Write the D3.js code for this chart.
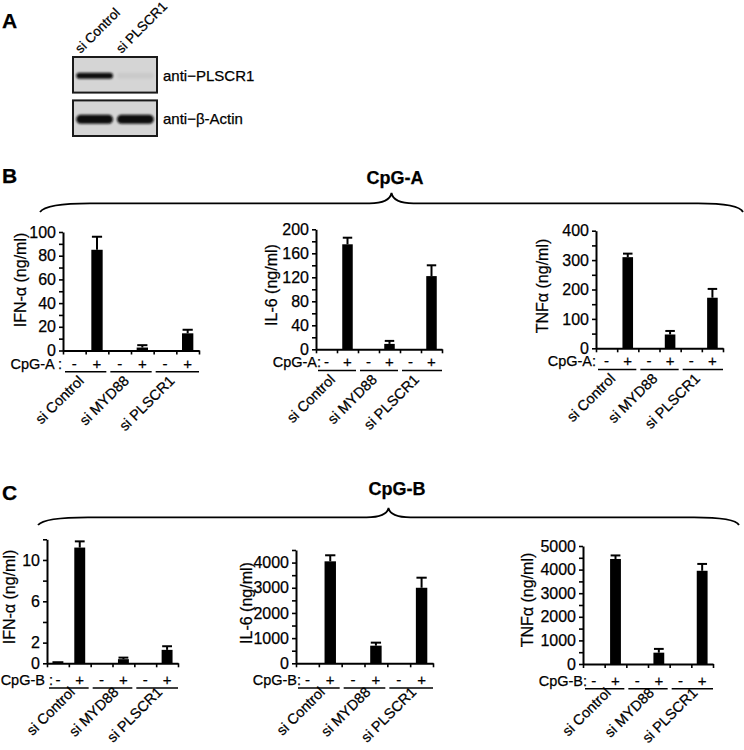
<!DOCTYPE html>
<html><head><meta charset="utf-8">
<script src="https://cdn.jsdelivr.net/npm/d3@7"></script>
<style>
body{margin:0;background:#fff}
text{font-family:"Liberation Sans",Arial,sans-serif;fill:#000;stroke:#000;stroke-width:0.25px}
</style>
</head><body>
<svg id="c" width="744" height="750"></svg>
<script>
// ---------- DATA ----------
const groups = ["si Control", "si MYD88", "si PLSCR1"];
const treatment = ["-", "+"];

// Panel A: western blot
const blotLanes = ["si Control", "si PLSCR1"];
const blotRows = ["anti\u2212PLSCR1", "anti\u2212\u03b2-Actin"];
const plscr1Signal = [1.0, 0.05];
const actinSignal = [1.0, 1.0];

// Panel B: CpG-A  (order: Control -, Control +, MYD88 -, MYD88 +, PLSCR1 -, PLSCR1 +)
const cpgA_ifn = [0, 85, 0, 2.5, 0, 14.5];
const cpgA_ifn_err = [0, 11, 0, 2, 0, 3];
const cpgA_il6 = [0, 175, 0, 9, 0, 122];
const cpgA_il6_err = [0, 11, 0, 5, 0, 18];
const cpgA_tnf = [0, 310, 0, 47, 0, 172];
const cpgA_tnf_err = [0, 12, 0, 12, 0, 30];

// Panel C: CpG-B
const cpgB_ifn = [0.2, 11.2, 0, 0.4, 0, 1.3];
const cpgB_ifn_err = [0, 0.6, 0, 0.15, 0, 0.35];
const cpgB_il6 = [0, 4050, 0, 700, 0, 3000];
const cpgB_il6_err = [0, 240, 0, 120, 0, 400];
const cpgB_tnf = [0, 4450, 0, 480, 0, 3950];
const cpgB_tnf_err = [0, 150, 0, 160, 0, 290];

// Tick values and labels
const ticksA_ifn = [0, 10, 20, 30, 40, 50, 60, 70, 80, 90, 100];
const labelsA_ifn = [0, 20, 40, 60, 80, 100];
const ticksA_il6 = [0, 20, 40, 60, 80, 100, 120, 140, 160, 180, 200];
const labelsA_il6 = [0, 40, 80, 120, 160, 200];
const ticksA_tnf = [0, 50, 100, 150, 200, 250, 300, 350, 400];
const labelsA_tnf = [0, 100, 200, 300, 400];
const ticksB_ifn = [0, 2, 4, 6, 8, 10, 12];
const labelsB_ifn = [0, 2, 6, 10];
const ticksB_il6 = [0, 500, 1000, 1500, 2000, 2500, 3000, 3500, 4000, 4500];
const labelsB_il6 = [0, 1000, 2000, 3000, 4000];
const ticksB_tnf = [0, 500, 1000, 1500, 2000, 2500, 3000, 3500, 4000, 4500, 5000];
const labelsB_tnf = [0, 1000, 2000, 3000, 4000, 5000];

const titlesY = ["IFN-\u03b1 (ng/ml)", "IL-6 (ng/ml)", "TNF\u03b1 (ng/ml)"];

// ---------- DRAW ----------
const svg = d3.select("#c");
const keys = groups.flatMap(g => treatment.map(t => g + "|" + t));

// Panel letters
svg.append("text").attr("x", 2).attr("y", 28).attr("font-size", 21).attr("font-weight", "bold").text("A");
svg.append("text").attr("x", 2).attr("y", 183).attr("font-size", 21).attr("font-weight", "bold").text("B");
svg.append("text").attr("x", 2).attr("y", 500).attr("font-size", 21).attr("font-weight", "bold").text("C");

// ---- Panel A: blot ----
const defs = svg.append("defs");
defs.append("filter").attr("id", "blur").attr("x", "-20%").attr("y", "-50%").attr("width", "140%").attr("height", "200%")
  .append("feGaussianBlur").attr("stdDeviation", 0.9);

const laneX = d3.scaleBand().domain(blotLanes).range([73, 157]).paddingInner(0.02).paddingOuter(0.04);
const rowY = d3.scaleBand().domain(blotRows).range([57, 136]).paddingInner(0.18).paddingOuter(0);
const blotSignals = [plscr1Signal, actinSignal];
const bandH = [6, 9];

blotRows.forEach((r, ri) => {
  svg.append("rect").attr("x", 73).attr("y", rowY(r)).attr("width", 84).attr("height", rowY.bandwidth())
    .attr("fill", "#d5d5d5").attr("stroke", "#1a1a1a").attr("stroke-width", 2);
  const cy = rowY(r) + rowY.bandwidth() * 0.53;
  svg.append("g").attr("filter", "url(#blur)").selectAll("rect").data(blotLanes).join("rect")
    .attr("x", d => laneX(d) + laneX.bandwidth() * 0.04)
    .attr("width", laneX.bandwidth() * 0.92)
    .attr("y", cy - bandH[ri] / 2).attr("height", bandH[ri])
    .attr("rx", bandH[ri] / 2)
    .attr("fill", "#0b0b0b")
    .attr("opacity", (d, i) => blotSignals[ri][i]);
  svg.append("text").attr("x", 163).attr("y", cy + 5).attr("font-size", 15).text(r);
});
svg.selectAll("text.lane").data(blotLanes).join("text").attr("class", "lane")
  .attr("transform", d => `translate(${laneX(d) + laneX.bandwidth() / 2 - 14},54) rotate(-45)`)
  .attr("font-size", 13.5).text(d => d);

// ---- Braces ----
function brace(xl, xr, yLine, yEnd, yTip) {
  const xc = (xl + xr) / 2;
  const p = d3.path();
  p.moveTo(xl, yEnd);
  p.quadraticCurveTo(xl + 6, yLine, xl + 50, yLine);
  p.lineTo(xc - 22, yLine);
  p.quadraticCurveTo(xc - 2, yLine, xc, yTip);
  p.quadraticCurveTo(xc + 2, yLine, xc + 22, yLine);
  p.lineTo(xr - 45, yLine);
  p.quadraticCurveTo(xr - 4, yLine, xr, yEnd);
  svg.append("path").attr("d", p.toString()).attr("fill", "none").attr("stroke", "#000").attr("stroke-width", 1.8);
}
brace(40, 743, 203.3, 212, 193);
brace(38, 739, 517.3, 525, 508);
svg.append("text").attr("x", 395).attr("y", 184).attr("text-anchor", "middle").attr("font-size", 18).attr("font-weight", "bold").text("CpG-A");
svg.append("text").attr("x", 397).attr("y", 495).attr("text-anchor", "middle").attr("font-size", 18).attr("font-weight", "bold").text("CpG-B");

// ---- Bar panels ----
const panels = [
  {vals: cpgA_ifn, errs: cpgA_ifn_err, ticks: ticksA_ifn, labels: labelsA_ifn, title: titlesY[0], cpg: "CpG-A :",
   x0: 63, x1: 199, y0: 350.5, yTop: 232, tx: 22, ty: 280, cpgDx: -1, row: "B"},
  {vals: cpgA_il6, errs: cpgA_il6_err, ticks: ticksA_il6, labels: labelsA_il6, title: titlesY[1], cpg: "CpG-A:",
   x0: 316, x1: 442, y0: 349.3, yTop: 229.3, tx: 273, ty: 285, cpgDx: 5, row: "B"},
  {vals: cpgA_tnf, errs: cpgA_tnf_err, ticks: ticksA_tnf, labels: labelsA_tnf, title: titlesY[2], cpg: "CpG-A:",
   x0: 596, x1: 723, y0: 348.3, yTop: 230.7, tx: 544, ty: 286, cpgDx: 0, row: "B"},
  {vals: cpgB_ifn, errs: cpgB_ifn_err, ticks: ticksB_ifn, labels: labelsB_ifn, title: titlesY[0], cpg: "CpG-B :",
   x0: 47, x1: 178, y0: 663.3, yTop: 539.3, tx: 11, ty: 597, cpgDx: 6, row: "C"},
  {vals: cpgB_il6, errs: cpgB_il6_err, ticks: ticksB_il6, labels: labelsB_il6, title: titlesY[1], cpg: "CpG-B:",
   x0: 296, x1: 433, y0: 663.3, yTop: 550, tx: 248, ty: 603, cpgDx: 5, row: "C"},
  {vals: cpgB_tnf, errs: cpgB_tnf_err, ticks: ticksB_tnf, labels: labelsB_tnf, title: titlesY[2], cpg: "CpG-B:",
   x0: 583, x1: 713, y0: 664, yTop: 546, tx: 529, ty: 600, cpgDx: 4, row: "C"}
];
const rowLayout = {
  B: {tOff: 18, uOff: 21.2, gdx: -1, gdy: 10},
  C: {tOff: 21.7, uOff: 24.7, gdx: 7, gdy: 5}
};

panels.forEach(cfg => {
  const L = rowLayout[cfg.row];
  const g = svg.append("g");
  const x = d3.scaleBand().domain(keys).range([cfg.x0, cfg.x1]).paddingInner(0.5).paddingOuter(0.25);
  const slot = d3.scaleLinear().domain([0, keys.length]).range([cfg.x0, cfg.x1]);
  const yMax = d3.max(cfg.ticks);
  const y = d3.scaleLinear().domain([0, yMax]).range([cfg.y0, cfg.yTop]);

  // bars
  g.selectAll("rect.bar").data(keys).join("rect").attr("class", "bar")
    .attr("x", d => x(d)).attr("width", x.bandwidth())
    .attr("y", (d, i) => y(cfg.vals[i]))
    .attr("height", (d, i) => y(0) - y(cfg.vals[i]))
    .attr("fill", "#000");

  // error bars (upper only)
  const errKeys = keys.filter((d, i) => cfg.errs[i] > 0);
  const idx = d => keys.indexOf(d);
  g.selectAll("line.err").data(errKeys).join("line").attr("class", "err")
    .attr("x1", d => x(d) + x.bandwidth() / 2).attr("x2", d => x(d) + x.bandwidth() / 2)
    .attr("y1", d => y(cfg.vals[idx(d)])).attr("y2", d => y(cfg.vals[idx(d)] + cfg.errs[idx(d)]))
    .attr("stroke", "#000").attr("stroke-width", 2);
  g.selectAll("line.cap").data(errKeys).join("line").attr("class", "cap")
    .attr("x1", d => x(d) + x.bandwidth() * 0.05).attr("x2", d => x(d) + x.bandwidth() * 0.95)
    .attr("y1", d => y(cfg.vals[idx(d)] + cfg.errs[idx(d)])).attr("y2", d => y(cfg.vals[idx(d)] + cfg.errs[idx(d)]))
    .attr("stroke", "#000").attr("stroke-width", 2);

  // y axis
  const ya = d3.axisLeft(y).tickValues(cfg.ticks)
    .tickFormat(d => cfg.labels.includes(d) ? d : "")
    .tickSizeInner(4).tickSizeOuter(0).tickPadding(3);
  const yg = g.append("g").attr("transform", `translate(${cfg.x0},0)`).call(ya);
  yg.select(".domain").attr("stroke-width", 2);
  yg.selectAll(".tick line").attr("stroke-width", 1.6);
  yg.selectAll(".tick text").attr("font-size", 16).attr("fill", "#000");
  yg.attr("font-family", null);

  // x axis with ticks at slot boundaries
  const xa = d3.axisBottom(slot).tickValues(d3.range(keys.length + 1)).tickFormat("").tickSizeInner(4).tickSizeOuter(0);
  const xg = g.append("g").attr("transform", `translate(0,${cfg.y0})`).call(xa);
  xg.select(".domain").attr("stroke-width", 2);
  xg.selectAll(".tick line").attr("stroke-width", 1.6);

  // y title
  g.append("text").attr("transform", `translate(${cfg.tx},${cfg.ty}) rotate(-90)`)
    .attr("text-anchor", "middle").attr("dominant-baseline", "middle").attr("font-size", 16).text(cfg.title);

  // treatment row
  g.append("text").attr("x", cfg.x0 + cfg.cpgDx).attr("y", cfg.y0 + L.tOff)
    .attr("text-anchor", "end").attr("font-size", 14.5).text(cfg.cpg);
  g.selectAll("text.trt").data(keys).join("text").attr("class", "trt")
    .attr("x", d => x(d) + x.bandwidth() / 2).attr("y", cfg.y0 + L.tOff)
    .attr("text-anchor", "middle").attr("font-size", 15).text(d => d.split("|")[1]);

  // group underlines and labels
  const gStart = gi => slot(gi * treatment.length);
  const gEnd = gi => slot((gi + 1) * treatment.length);
  g.selectAll("line.ul").data(groups).join("line").attr("class", "ul")
    .attr("x1", (d, i) => gStart(i) + 2).attr("x2", (d, i) => i === groups.length - 1 ? gEnd(i) : gEnd(i) - 2)
    .attr("y1", cfg.y0 + L.uOff).attr("y2", cfg.y0 + L.uOff)
    .attr("stroke", "#000").attr("stroke-width", 1.6);
  g.selectAll("text.grp").data(groups).join("text").attr("class", "grp")
    .attr("transform", (d, i) => `translate(${(gStart(i) + gEnd(i)) / 2 + L.gdx},${cfg.y0 + L.uOff + L.gdy}) rotate(-45)`)
    .attr("text-anchor", "end").attr("font-size", 14.5).text(d => d);
});
</script>
</body></html>
